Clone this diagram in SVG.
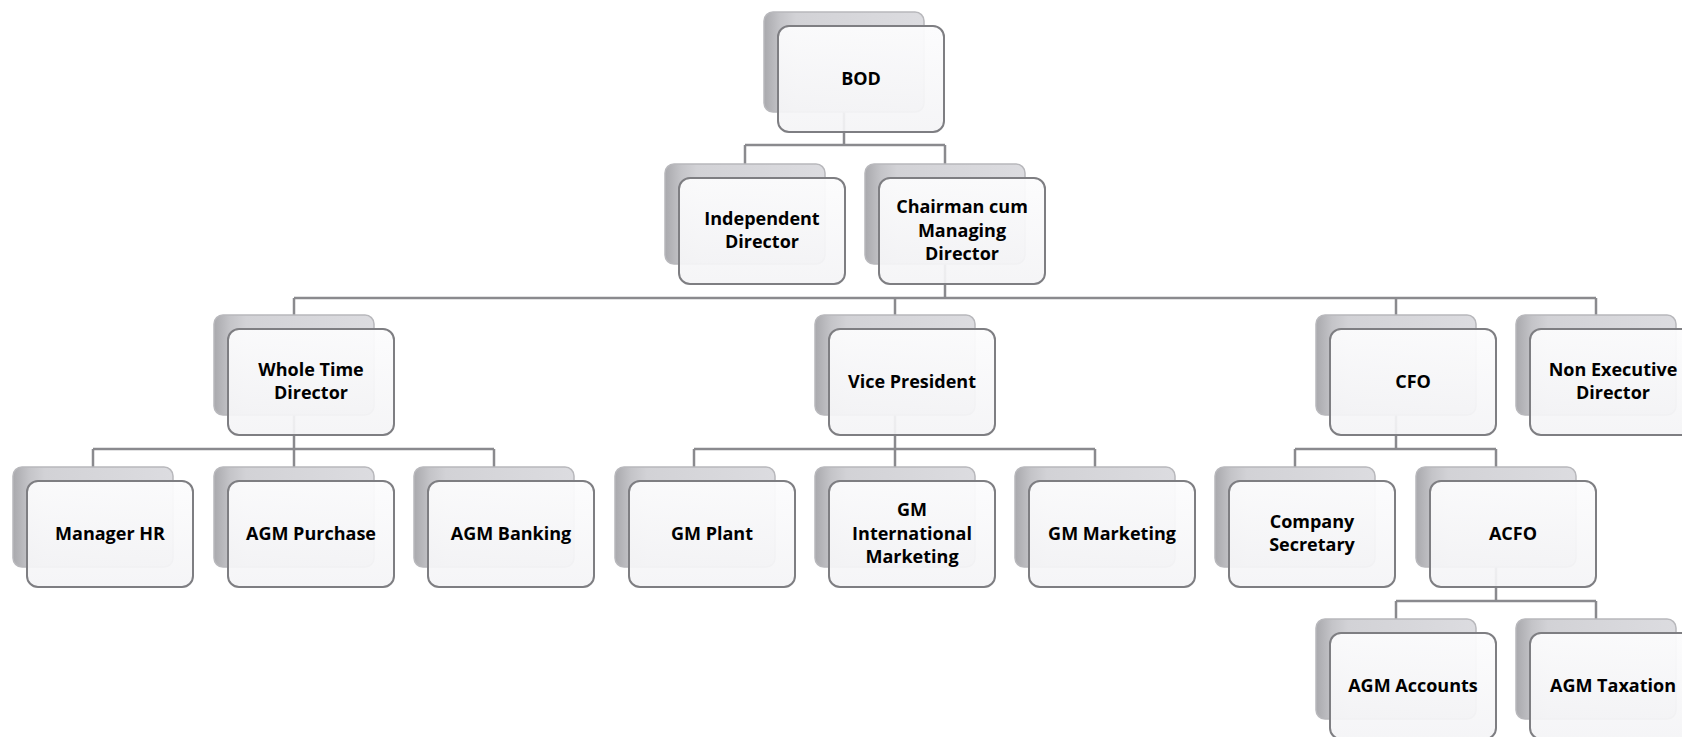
<svg xmlns="http://www.w3.org/2000/svg" width="1682" height="737" viewBox="0 0 1682 737">
<defs>
<linearGradient id="backGrad" x1="0" y1="0" x2="1" y2="0">
<stop offset="0" stop-color="#a9a9ad"/>
<stop offset="0.1" stop-color="#c4c4c8"/>
<stop offset="0.2" stop-color="#d2d2d6"/>
<stop offset="1" stop-color="#dcdce0"/>
</linearGradient>
<linearGradient id="frontGrad" x1="0" y1="0" x2="0" y2="1">
<stop offset="0" stop-color="#fcfcfd" stop-opacity="0.95"/>
<stop offset="1" stop-color="#f4f4f6" stop-opacity="0.92"/>
</linearGradient>
<g id="card">
<rect x="-14" y="-14" width="160" height="100" rx="9" fill="url(#backGrad)" stroke="#b8b8bc" stroke-width="1.5"/>
<rect x="0" y="0" width="166" height="106" rx="11" fill="url(#frontGrad)" stroke="#7e7e82" stroke-width="2"/>
</g>
</defs>
<style>
.conn{fill:none;stroke:#8a8a8e;stroke-width:2.5}
.lbl{font-family:"Open Sans","Liberation Sans",sans-serif;font-weight:bold;font-size:18px;fill:#000;text-anchor:middle}
</style>
<rect width="1682" height="737" fill="#ffffff"/>
<g id="connectors">
<path class="conn" d="M844 100V145M745 145H945M745 145V164M945 145V164"/>
<path class="conn" d="M945 250V298M294 298H1596M294 298V315M895 298V315M1396 298V315M1596 298V315"/>
<path class="conn" d="M294 400V449M93 449H494M93 449V467M294 449V467M494 449V467"/>
<path class="conn" d="M895 400V449M694 449H1095M694 449V467M895 449V467M1095 449V467"/>
<path class="conn" d="M1396 400V449M1295 449H1496M1295 449V467M1496 449V467"/>
<path class="conn" d="M1496 550V601M1396 601H1596M1396 601V619M1596 601V619"/>
</g>
<g id="n-bod"><use href="#card" x="778" y="26"/><text class="lbl" x="861" y="85">BOD</text></g>
<g id="n-independent"><use href="#card" x="679" y="178"/><text class="lbl" x="762" y="225">Independent</text><text class="lbl" x="762" y="248">Director</text></g>
<g id="n-chairman"><use href="#card" x="879" y="178"/><text class="lbl" x="962" y="213">Chairman cum</text><text class="lbl" x="962" y="237">Managing</text><text class="lbl" x="962" y="260">Director</text></g>
<g id="n-wholetime"><use href="#card" x="228" y="329"/><text class="lbl" x="311" y="376">Whole Time</text><text class="lbl" x="311" y="399">Director</text></g>
<g id="n-vp"><use href="#card" x="829" y="329"/><text class="lbl" x="912" y="388">Vice President</text></g>
<g id="n-cfo"><use href="#card" x="1330" y="329"/><text class="lbl" x="1413" y="388">CFO</text></g>
<g id="n-nonexec"><use href="#card" x="1530" y="329"/><text class="lbl" x="1613" y="376">Non Executive</text><text class="lbl" x="1613" y="399">Director</text></g>
<g id="n-managerhr"><use href="#card" x="27" y="481"/><text class="lbl" x="110" y="540">Manager HR</text></g>
<g id="n-agmpurchase"><use href="#card" x="228" y="481"/><text class="lbl" x="311" y="540">AGM Purchase</text></g>
<g id="n-agmbanking"><use href="#card" x="428" y="481"/><text class="lbl" x="511" y="540">AGM Banking</text></g>
<g id="n-gmplant"><use href="#card" x="629" y="481"/><text class="lbl" x="712" y="540">GM Plant</text></g>
<g id="n-gmintl"><use href="#card" x="829" y="481"/><text class="lbl" x="912" y="516">GM</text><text class="lbl" x="912" y="540">International</text><text class="lbl" x="912" y="563">Marketing</text></g>
<g id="n-gmmarketing"><use href="#card" x="1029" y="481"/><text class="lbl" x="1112" y="540">GM Marketing</text></g>
<g id="n-compsec"><use href="#card" x="1229" y="481"/><text class="lbl" x="1312" y="528">Company</text><text class="lbl" x="1312" y="551">Secretary</text></g>
<g id="n-acfo"><use href="#card" x="1430" y="481"/><text class="lbl" x="1513" y="540">ACFO</text></g>
<g id="n-agmaccounts"><use href="#card" x="1330" y="633"/><text class="lbl" x="1413" y="692">AGM Accounts</text></g>
<g id="n-agmtaxation"><use href="#card" x="1530" y="633"/><text class="lbl" x="1613" y="692">AGM Taxation</text></g>
</svg>
